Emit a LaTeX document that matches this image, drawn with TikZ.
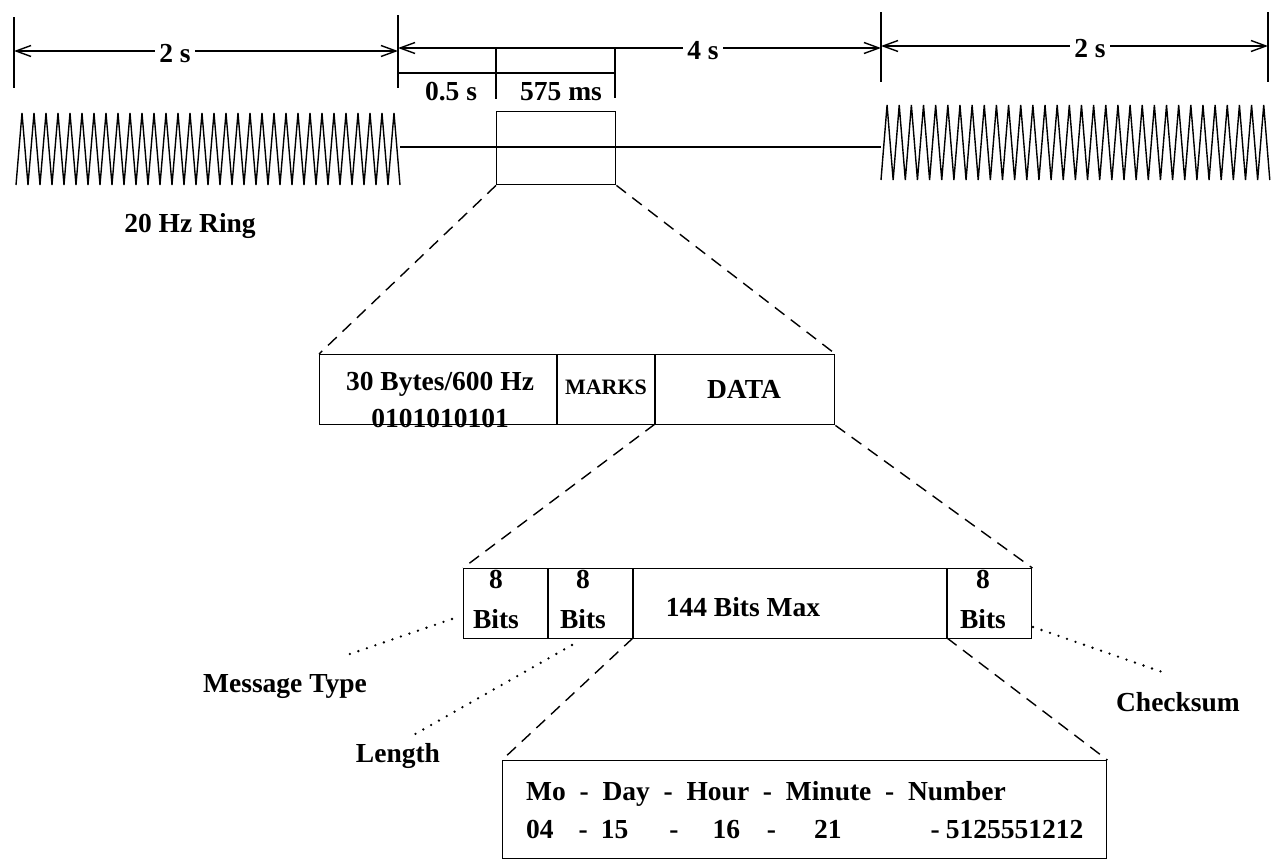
\documentclass[tikz,border=0pt]{standalone}
\usepackage{fontspec}
\setmainfont{Liberation Serif}
\usetikzlibrary{arrows.meta}
\newcommand\txtfont{\fontsize{27.5}{33}\selectfont\bfseries}
\newcommand\smfont{\fontsize{22}{26}\selectfont\bfseries}
\begin{document}
\begin{tikzpicture}[x=1pt,y=-1pt,
  ln/.style={line width=1.4pt},
  dimarrow/.style={ln,{Straight Barb[length=15pt,width=11pt]}-{Straight Barb[length=15pt,width=11pt]}},
  lab/.style={fill=white,inner xsep=4pt,inner ysep=1pt,anchor=base,font=\txtfont},
  txt/.style={inner sep=0pt,anchor=base,font=\txtfont},
  boxn/.style={draw,ln,inner sep=0pt,anchor=north west},
  dsh/.style={ln,dash pattern=on 12pt off 8pt},
  dts/.style={line width=2.6pt,line cap=round,dash pattern=on 0pt off 9pt}
]
\useasboundingbox (0,0) rectangle (1275,862);
\fill[white] (0,0) rectangle (1275,862);

% ---- top dimension lines
\coordinate (v1t) at (14,17);   \coordinate (v1b) at (14,88);
\coordinate (v2t) at (398,15);  \coordinate (v2b) at (398,88);
\coordinate (v3t) at (881,12);  \coordinate (v3b) at (881,82);
\coordinate (v4t) at (1268,12); \coordinate (v4b) at (1268,82);
\draw[ln] (v1t) -- (v1b);
\draw[ln] (v2t) -- (v2b);
\draw[ln] (v3t) -- (v3b);
\draw[ln] (v4t) -- (v4b);

\coordinate (a1l) at (14,51);  \coordinate (a1r) at (398,51);
\coordinate (a2l) at (398,48); \coordinate (a2r) at (881,48);
\coordinate (a3l) at (881,46); \coordinate (a3r) at (1268,46);
\draw[dimarrow] (a1l) -- (a1r);
\draw[dimarrow] (a2l) -- (a2r);
\draw[dimarrow] (a3l) -- (a3r);
\node[lab] (l2a) at (175,62) {2 s};
\node[lab] (l4) at (703,59) {4 s};
\node[lab] (l2b) at (1090,57) {2 s};

% sub dimension
\coordinate (s1t) at (496,48); \coordinate (s1b) at (496,99);
\coordinate (s2t) at (615,48); \coordinate (s2b) at (615,98);
\coordinate (shl) at (398,73); \coordinate (shr) at (615,73);
\draw[ln] (s1t) -- (s1b);
\draw[ln] (s2t) -- (s2b);
\draw[ln] (shl) -- (shr);
\node[txt] (l05) at (451,100) {0.5 s};
\node[txt] (l575) at (561,100) {575 ms};

% ---- ring signals
\draw[ln,line join=bevel] (16,185) \foreach \i in {0,...,31}{ -- ({16+12*\i+6},113) -- ({16+12*(\i+1)},185)};
\draw[ln,line join=bevel] (881,180) \foreach \i in {0,...,31}{ -- ({881+12.15*\i+6.07},105) -- ({881+12.15*(\i+1)},180)};
\coordinate (bl1) at (400,147); \coordinate (bl2) at (881,147);
\draw[ln] (bl1) -- (bl2);
\node[txt] (ring) at (190,232) {20 Hz Ring};

% ---- box 1
\node[boxn,minimum width=119pt,minimum height=73pt] (b1) at (496,111) {};

% ---- box 2
\node[boxn,minimum width=515pt,minimum height=70pt] (b2) at (319,354) {};
\coordinate (b2d1t) at (557,354); \coordinate (b2d1b) at (557,424);
\coordinate (b2d2t) at (655,354); \coordinate (b2d2b) at (655,424);
\draw[ln] (b2d1t) -- (b2d1b);
\draw[ln] (b2d2t) -- (b2d2b);
\node[txt] (t30) at (440,390) {30 Bytes/600 Hz};
\node[txt] (t01) at (440,427) {0101010101};
\node[txt,font=\smfont] (tmk) at (606,394) {MARKS};
\node[txt] (tdata) at (744,398) {DATA};

\draw[dsh] (b1.south west) -- (b2.north west);
\draw[dsh] (b1.south east) -- (b2.north east);

% ---- box 3
\node[boxn,minimum width=568pt,minimum height=70pt] (b3) at (463,568) {};
\coordinate (b3d1t) at (548,568); \coordinate (b3d1b) at (548,638);
\coordinate (b3d2t) at (633,568); \coordinate (b3d2b) at (633,638);
\coordinate (b3d3t) at (947,568); \coordinate (b3d3b) at (947,638);
\draw[ln] (b3d1t) -- (b3d1b);
\draw[ln] (b3d2t) -- (b3d2b);
\draw[ln] (b3d3t) -- (b3d3b);
\node[txt] (e1) at (496,588) {8};
\node[txt] (f1) at (496,628) {Bits};
\node[txt] (e2) at (583,588) {8};
\node[txt] (f2) at (583,628) {Bits};
\node[txt] (t144) at (743,616) {144 Bits Max};
\node[txt] (e4) at (983,588) {8};
\node[txt] (f4) at (983,628) {Bits};

\draw[dsh] (b2d2b) -- (b3.north west);
\draw[dsh] (b2.south east) -- (b3.north east);

% ---- labels with dotted leaders
\node[txt] (mt) at (285,692) {Message Type};
\node[txt] (len) at (398,762) {Length};
\node[txt] (cs) at (1178,711) {Checksum};
\coordinate (mta) at (452,619); \coordinate (mtb) at (347,655);
\coordinate (lna) at (572,645); \coordinate (lnb) at (410,737);
\coordinate (csa) at (1033,627); \coordinate (csb) at (1165,673);
\draw[dts] (mta) -- (mtb);
\draw[dts] (lna) -- (lnb);
\draw[dts] (csa) -- (csb);

% ---- box 4
\node[boxn,minimum width=604pt,minimum height=98pt] (b4) at (502,760) {};
\draw[dsh] (b3d2b) -- (b4.north west);
\draw[dsh] (b3d3b) -- (b4.north east);
\node[txt,anchor=base west] (r1) at (526,800) {Mo~~-~~Day~~-~~Hour~~-~~Minute~~-~~Number};
\node[txt,anchor=base west] (r2) at (526,838) {04\hspace*{25pt}-\hspace*{13pt}15\hspace*{41pt}-\hspace*{34pt}16\hspace*{27pt}-\hspace*{38pt}21\hspace*{89pt}-\hspace*{6pt}5125551212};
\end{tikzpicture}
\end{document}
